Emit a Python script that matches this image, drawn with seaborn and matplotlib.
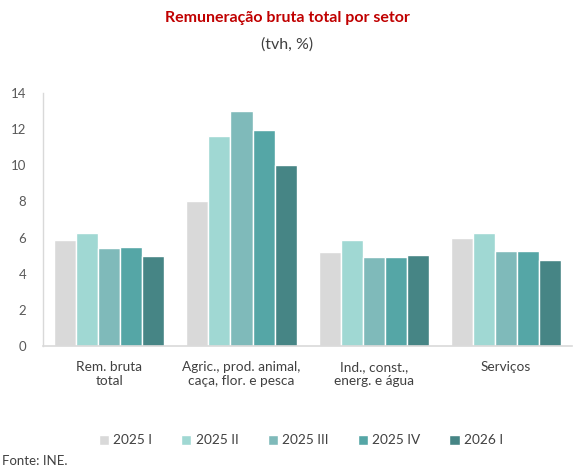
import pandas as pd
import matplotlib
matplotlib.use("Agg")
import matplotlib.pyplot as plt
import seaborn as sns


# ---------------- DATA ----------------
sectors = [
    "Rem. bruta\ntotal",
    "Agric., prod. animal,\ncaça, flor. e pesca",
    "Ind., const.,\nenerg. e água",
    "Serviços",
]
periods = ["2025 I", "2025 II", "2025 III", "2025 IV", "2026 I"]

q2025_1 = [5.85, 8.0, 5.2, 6.0]
q2025_2 = [6.25, 11.65, 5.85, 6.25]
q2025_3 = [5.4, 13.0, 4.95, 5.25]
q2025_4 = [5.45, 11.95, 4.95, 5.25]
q2026_1 = [5.0, 10.0, 5.05, 4.75]

colors = ["#D9D9D9", "#A0D8D3", "#7FBABA", "#55A6A6", "#468585"]


# ---------------- FRAME ----------------
series = [q2025_1, q2025_2, q2025_3, q2025_4, q2026_1]
rows = []
for per, vals in zip(periods, series):
    for sec, v in zip(sectors, vals):
        rows.append({"setor": sec, "periodo": per, "valor": v})
df = pd.DataFrame(rows)


# ---------------- PLOT ----------------
sns.set_theme(style="white")
plt.rcParams["font.family"] = ["Lato", "DejaVu Sans"]

fig = plt.figure(figsize=(5.75, 4.7), dpi=100)
ax = fig.add_axes([0.075, 0.264, 0.92, 0.538])

sns.barplot(data=df, x="setor", y="valor", hue="periodo", order=sectors,
            hue_order=periods, palette=colors, width=0.835, saturation=1,
            ax=ax, legend=True)

ax.set_xlim(-0.5, 3.5)
ax.set_ylim(0, 14)
ax.set_yticks(range(0, 15, 2))
ax.set_xlabel("")
ax.set_ylabel("")
ax.tick_params(axis="y", labelsize=9.5, labelcolor="#595959", length=0, pad=12)
ax.tick_params(axis="x", labelsize=9.8, labelcolor="#404040", length=0, pad=11)

for s in ["top", "right"]:
    ax.spines[s].set_visible(False)
ax.spines["left"].set_color("#D9D9D9")
ax.spines["bottom"].set_color("#D9D9D9")
ax.spines["left"].set_linewidth(1.0)
ax.spines["bottom"].set_linewidth(1.2)

handles, labels = ax.get_legend_handles_labels()
ax.get_legend().remove()
fig.legend(handles, labels, loc="center", bbox_to_anchor=(0.523, 0.063),
           ncol=5, frameon=False, fontsize=9.8, handlelength=0.75,
           handleheight=0.75, handletextpad=0.3, columnspacing=2.15,
           labelcolor="#404040")

fig.text(0.5, 0.962, "Remuneração bruta total por setor", ha="center",
         va="center", fontsize=11.5, fontweight="bold", color="#C00000")
fig.text(0.5, 0.905, "(tvh, %)", ha="center", va="center", fontsize=11.5,
         color="#404040")
fig.text(0.004, 0.019, "Fonte: INE.", ha="left", va="center", fontsize=9.5,
         color="#404040")

fig.savefig("out.png", dpi=100)
